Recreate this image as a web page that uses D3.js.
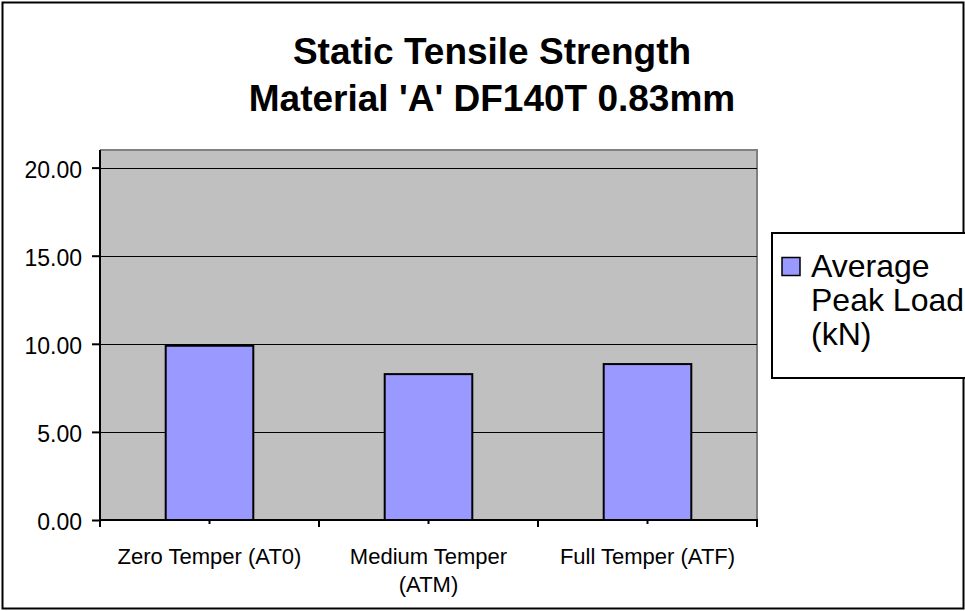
<!DOCTYPE html>
<html>
<head>
<meta charset="utf-8">
<script src="https://cdn.jsdelivr.net/npm/d3@7"></script>
<style>
	body { margin: 0; background: #fff; }
	svg { display: block; font-family: "Liberation Sans", Arial, sans-serif; }
</style>
</head>
<body>
<div id="chart"></div>
<script>

var categories  = [ ["Zero Temper (AT0)"], ["Medium Temper", "(ATM)"], ["Full Temper (ATF)"] ];
var peakLoad    = [ 9.89, 8.28, 8.85 ];
var yTicks      = [ 0, 5, 10, 15, 20 ];
var titleLines  = [ "Static Tensile Strength", "Material 'A' DF140T 0.83mm" ];
var legendLines = [ "Average", "Peak Load", "(kN)" ];

var W = 965, H = 611;
var plot = { left: 100, top: 150, right: 757, bottom: 520 };

var svg = d3.select("#chart")
	.append("svg")
	.attr("width", W)
	.attr("height", H);

// outer frame
svg.append("rect")
	.attr("x", 2.5).attr("y", 2.5)
	.attr("width", 961).attr("height", 606)
	.attr("fill", "#fff")
	.attr("stroke", "#000")
	.attr("stroke-width", 2);

// title
svg.append("g")
	.selectAll("text")
	.data(titleLines)
	.enter()
	.append("text")
	.attr("x", 492)
	.attr("y", function(d, i) { return 64 + i * 47; })
	.attr("text-anchor", "middle")
	.attr("font-size", 37)
	.attr("font-weight", "bold")
	.text(function(d) { return d; });

var keys = categories.map(function(c) { return c.join(" "); });

var x = d3.scaleBand()
	.domain(keys)
	.range([plot.left, plot.right])
	.paddingInner(0.6)
	.paddingOuter(0.3);

var y = d3.scaleLinear()
	.domain([0, 21])
	.range([plot.bottom, plot.top]);

// plot area
svg.append("rect")
	.attr("x", plot.left)
	.attr("y", plot.top)
	.attr("width", plot.right - plot.left)
	.attr("height", plot.bottom - plot.top)
	.attr("fill", "#C0C0C0");

svg.append("path")
	.attr("d", "M" + plot.left + "," + plot.top + "H" + plot.right + "V" + plot.bottom)
	.attr("fill", "none")
	.attr("stroke", "#808080")
	.attr("stroke-width", 2);

// gridlines
svg.append("g")
	.selectAll("line")
	.data(yTicks.filter(function(t) { return t > 0; }))
	.enter()
	.append("line")
	.attr("x1", plot.left)
	.attr("x2", plot.right)
	.attr("y1", function(d) { return Math.round(y(d)) + 0.5; })
	.attr("y2", function(d) { return Math.round(y(d)) + 0.5; })
	.attr("stroke", "#000")
	.attr("stroke-width", 1);

// bars
svg.append("g")
	.selectAll("rect")
	.data(peakLoad)
	.enter()
	.append("rect")
	.attr("x", function(d, i) { return x(keys[i]); })
	.attr("y", function(d) { return y(d); })
	.attr("width", x.bandwidth())
	.attr("height", function(d) { return y(0) - y(d); })
	.attr("fill", "#9999FF")
	.attr("stroke", "#000")
	.attr("stroke-width", 2);

// y axis
var yAxis = d3.axisLeft(y)
	.tickValues(yTicks)
	.tickSize(8)
	.tickPadding(10)
	.tickFormat(d3.format(".2f"));

var gy = svg.append("g")
	.attr("transform", "translate(" + plot.left + ",0)")
	.call(yAxis);

gy.select(".domain")
	.attr("stroke-width", 2)
	.attr("d", "M0," + plot.top + "V" + (plot.bottom + 6));
gy.selectAll(".tick line").attr("stroke-width", 2);
gy.selectAll(".tick text")
	.attr("font-family", "Liberation Sans, Arial, sans-serif")
	.attr("font-size", 23)
	.attr("fill", "#000")
	.attr("dy", "0.42em");

// x axis
var step = x.step();
var bounds = d3.range(keys.length + 1).map(function(i) { return plot.left + i * step; });

var gx = svg.append("g");

gx.append("line")
	.attr("x1", plot.left - 1)
	.attr("x2", plot.right + 1)
	.attr("y1", plot.bottom)
	.attr("y2", plot.bottom)
	.attr("stroke", "#000")
	.attr("stroke-width", 2);

gx.selectAll(".major")
	.data(bounds)
	.enter()
	.append("line")
	.attr("class", "major")
	.attr("x1", function(d) { return d; })
	.attr("x2", function(d) { return d; })
	.attr("y1", plot.bottom)
	.attr("y2", plot.bottom + 7)
	.attr("stroke", "#000")
	.attr("stroke-width", 2);

gx.selectAll(".minor")
	.data(keys)
	.enter()
	.append("line")
	.attr("class", "minor")
	.attr("x1", function(d) { return x(d) + x.bandwidth() / 2; })
	.attr("x2", function(d) { return x(d) + x.bandwidth() / 2; })
	.attr("y1", plot.bottom)
	.attr("y2", plot.bottom + 4)
	.attr("stroke", "#000")
	.attr("stroke-width", 2);

var labels = gx.selectAll(".cat")
	.data(categories)
	.enter()
	.append("text")
	.attr("class", "cat")
	.attr("text-anchor", "middle")
	.attr("font-size", 22)
	.attr("fill", "#000");

labels.selectAll("tspan")
	.data(function(d, i) { return d.map(function(t) { return { t: t, k: keys[i] }; }); })
	.enter()
	.append("tspan")
	.attr("x", function(d) { return x(d.k) + x.bandwidth() / 2; })
	.attr("y", function(d, j) { return 564 + j * 28; })
	.text(function(d) { return d.t; });

// legend
var legend = svg.append("g");

legend.append("rect")
	.attr("x", 772)
	.attr("y", 233)
	.attr("width", 200)
	.attr("height", 145)
	.attr("fill", "#fff")
	.attr("stroke", "#000")
	.attr("stroke-width", 2);

legend.append("rect")
	.attr("x", 782)
	.attr("y", 257.5)
	.attr("width", 18)
	.attr("height", 18)
	.attr("fill", "#9999FF")
	.attr("stroke", "#000")
	.attr("stroke-width", 1.5);

legend.selectAll("text")
	.data(legendLines)
	.enter()
	.append("text")
	.attr("x", 811)
	.attr("y", function(d, i) { return 277 + i * 34; })
	.attr("font-size", 32)
	.attr("fill", "#000")
	.text(function(d) { return d; });

</script>
</body>
</html>
